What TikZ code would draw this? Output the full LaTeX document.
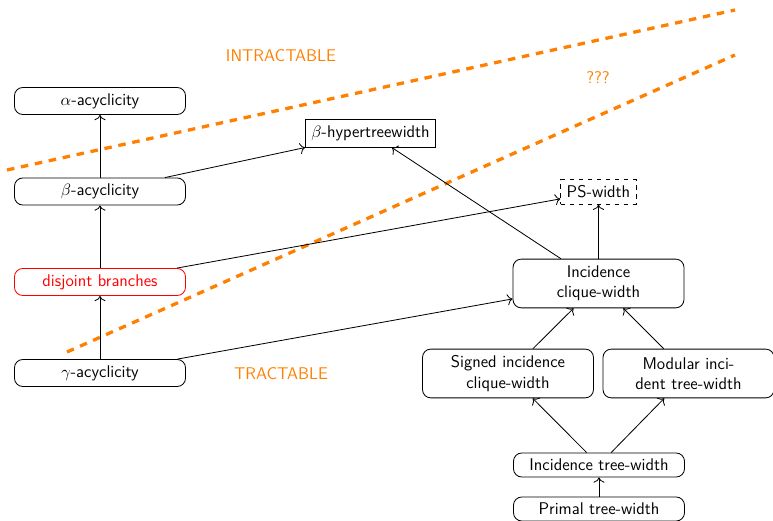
\documentclass[tikz,border=0pt]{standalone}
\usepackage{fontspec}
\usetikzlibrary{arrows.meta}
\begin{document}
\begin{tikzpicture}[x=0.6667pt,y=-0.6667pt,
 every node/.style={font=\sffamily\fontsize{11.3}{13.6}\selectfont},
 rbox/.style={draw, line width=0.55pt, rounded corners=5.5pt, minimum width=114pt, minimum height=18pt, align=center},
 tbox/.style={rbox, minimum height=32.5pt},
 sbox/.style={rbox, minimum height=16pt},
 conn/.style={-{To[scale=1.25]}, line width=0.55pt},
 sep/.style={draw=orange, line width=2.2pt, dash pattern=on 5pt off 4.5pt},
 lbl/.style={text=orange}]
\useasboundingbox (0,0) rectangle (773,521);

\draw[sep] (7,170) -- (735,10);
\draw[sep] (67,352) -- (735,55);

\node[lbl] (intr) at (281,56) {INTRACTABLE};
\node[lbl] (unk) at (598,78) {???};
\node[lbl] (tr) at (281,374) {TRACTABLE};

\node[rbox] (alpha) at (100,101) {$\alpha$-acyclicity};
\node[rbox] (beta) at (100,191.5) {$\beta$-acyclicity};
\node[rbox, draw=red, text=red] (disj) at (100,282) {disjoint branches};
\node[rbox] (gamma) at (100,373) {$\gamma$-acyclicity};
\node[draw, line width=0.55pt, minimum height=18pt, inner sep=4pt] (bhtw) at (370.5,133.5) {$\beta$-hypertreewidth};
\node[draw, line width=0.55pt, dashed, minimum height=16pt, inner sep=4pt] (ps) at (598.5,192) {PS-width};
\node[tbox] (icw) at (598.5,283.5) {Incidence\\clique-width};
\node[tbox] (sicw) at (508,373.5) {Signed incidence\\clique-width};
\node[tbox] (mitw) at (688.5,373.5) {Modular inci-\\dent tree-width};
\node[sbox] (itw) at (599,465) {Incidence tree-width};
\node[sbox] (ptw) at (599,509) {Primal tree-width};

\draw[conn] (beta) -- (alpha);
\draw[conn] (disj) -- (beta);
\draw[conn] (gamma) -- (disj);
\draw[conn] (beta) -- (bhtw);
\draw[conn] (icw) -- (bhtw);
\draw[conn] (disj) -- (ps);
\draw[conn] (icw) -- (ps);
\draw[conn] (gamma) -- (icw);
\draw[conn] (sicw) -- (icw);
\draw[conn] (mitw) -- (icw);
\draw[conn] (itw) -- (sicw);
\draw[conn] (itw) -- (mitw);
\draw[conn] (ptw) -- (itw);
\end{tikzpicture}
\end{document}
